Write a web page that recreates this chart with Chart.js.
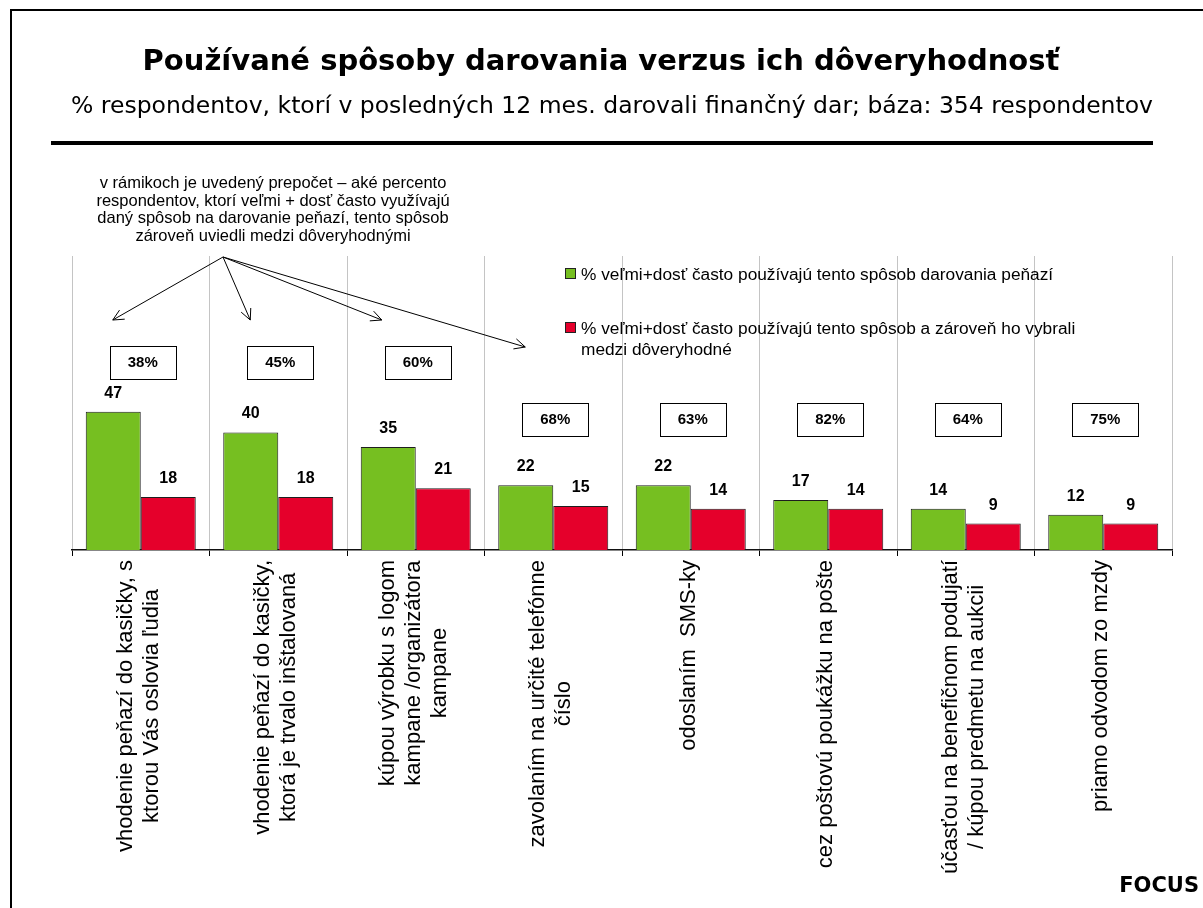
<!DOCTYPE html>
<html>
<head>
<meta charset="utf-8">
<script src="https://cdn.jsdelivr.net/npm/chart.js@4"></script>
<style>
  html, body { margin: 0; padding: 0; background: #fff; }
  canvas { display: block; }
</style>
</head>
<body>
<canvas id="chart" width="1203" height="908"></canvas>
<script>
/* DATA */
const categories = [
  ['vhodenie peňazí do kasičky, s', 'ktorou Vás oslovia ľudia'],
  ['vhodenie peňazí do kasičky,', 'ktorá je trvalo inštalovaná'],
  ['kúpou výrobku s logom', 'kampane /organizátora', 'kampane'],
  ['zavolaním na určité telefónne', 'číslo'],
  ['odoslaním  SMS-ky'],
  ['cez poštovú poukážku na pošte'],
  ['účasťou na benefičnom podujatí', '/ kúpou predmetu na aukcii'],
  ['priamo odvodom zo mzdy']
]
const usedOften = [47, 40, 35, 22, 22, 17, 14, 12]
const usedAndTrusted = [18, 18, 21, 15, 14, 14, 9, 9]
const trustShare = ['38%', '45%', '60%', '68%', '63%', '82%', '64%', '75%']

const seriesNames = [
  ['% veľmi+dosť často používajú tento spôsob darovania peňazí'],
  ['% veľmi+dosť často používajú tento spôsob a zároveň ho vybrali', 'medzi dôveryhodné']
]
const title = 'Používané spôsoby darovania verzus ich dôveryhodnosť'
const subtitle = '% respondentov, ktorí v posledných 12 mes. darovali finančný dar; báza: 354 respondentov'
const note = [
  'v rámikoch je uvedený prepočet – aké percento',
  'respondentov, ktorí veľmi + dosť často využívajú',
  'daný spôsob na darovanie peňazí, tento spôsob',
  'zároveň uviedli medzi dôveryhodnými'
]
const brand = 'FOCUS'

const GREEN = '#76BF21'
const RED = '#E5002B'
const ARIAL = '"Liberation Sans", Arial, sans-serif'
const VERDANA = '"DejaVu Sans", Verdana, sans-serif'

/* DECORATION: titles, note, arrows, legend, boxes, labels */
function arrow(ctx, x1, y1, x2, y2) {
  const a = Math.atan2(y2 - y1, x2 - x1)
  const h = 12
  ctx.beginPath()
  ctx.moveTo(x1, y1)
  ctx.lineTo(x2, y2)
  ctx.moveTo(x2 - h * Math.cos(a - 0.45), y2 - h * Math.sin(a - 0.45))
  ctx.lineTo(x2, y2)
  ctx.lineTo(x2 - h * Math.cos(a + 0.45), y2 - h * Math.sin(a + 0.45))
  ctx.stroke()
}

const decor = {
  id: 'decor',
  afterDatasetsDraw(chart) {
    const ctx = chart.ctx
    const x = chart.scales.x
    const y = chart.scales.y
    const area = chart.chartArea
    ctx.save()

    // frame
    ctx.strokeStyle = '#000'
    ctx.lineWidth = 2
    ctx.beginPath()
    ctx.moveTo(11, 908)
    ctx.lineTo(11, 10)
    ctx.lineTo(1203, 10)
    ctx.stroke()

    // title + subtitle + rule
    ctx.fillStyle = '#000'
    ctx.textAlign = 'center'
    ctx.textBaseline = 'alphabetic'
    ctx.font = 'bold 29px ' + VERDANA
    ctx.fillText(title, 601, 70)
    ctx.font = '23.5px ' + VERDANA
    ctx.fillText(subtitle, 612, 113)
    ctx.fillRect(51, 141, 1102, 4)

    // note
    ctx.font = '16.5px ' + ARIAL
    note.forEach((line, i) => ctx.fillText(line, 273, 188 + i * 17.5))

    // arrows to the first four boxes
    ctx.lineWidth = 1
    const ends = [[0, 320], [1, 320], [2, 320], [3, 347]]
    const shift = [-28, -28, -34, -28]
    ends.forEach(([i, ey], k) => arrow(ctx, 223, 257, x.getPixelForValue(i) + shift[k], ey))

    // legend
    ctx.textAlign = 'left'
    ctx.font = '17.3px ' + ARIAL
    const legendTop = [268, 322]
    const colors = [GREEN, RED]
    seriesNames.forEach((lines, s) => {
      ctx.fillStyle = colors[s]
      ctx.fillRect(565, legendTop[s], 10, 10)
      ctx.strokeStyle = '#222'
      ctx.strokeRect(565.5, legendTop[s] + 0.5, 10, 10)
      ctx.fillStyle = '#000'
      lines.forEach((line, j) => ctx.fillText(line, 581, legendTop[s] + 12 + j * 21))
    })

    // value labels
    ctx.textAlign = 'center'
    ctx.font = 'bold 16px ' + ARIAL
    chart.data.datasets.forEach((ds, d) => {
      chart.getDatasetMeta(d).data.forEach((bar, i) => {
        ctx.fillText(ds.data[i], bar.x, bar.y - 14)
      })
    })

    // boxes with trust share
    ctx.font = 'bold 15px ' + ARIAL
    ctx.textBaseline = 'middle'
    ctx.strokeStyle = '#000'
    trustShare.forEach((txt, i) => {
      const cx = x.getPixelForValue(i) + 2
      const cy = y.getPixelForValue(i < 3 ? 64 : 44.5)
      ctx.fillStyle = '#fff'
      ctx.fillRect(cx - 33, cy - 16, 66, 33)
      ctx.strokeRect(Math.round(cx - 33) + 0.5, Math.round(cy - 16) + 0.5, 66, 33)
      ctx.fillStyle = '#000'
      ctx.fillText(txt, cx, cy + 1)
    })

    // rotated category labels
    ctx.font = '22px ' + ARIAL
    const lh = 26
    categories.forEach((lines, i) => {
      const w = Math.max(...lines.map(l => ctx.measureText(l).width))
      ctx.save()
      ctx.translate(x.getPixelForValue(i) - 2, area.bottom + 10 + w / 2)
      ctx.rotate(-Math.PI / 2)
      lines.forEach((line, j) => ctx.fillText(line, 0, (j - (lines.length - 1) / 2) * lh))
      ctx.restore()
    })

    // brand
    ctx.textAlign = 'right'
    ctx.textBaseline = 'alphabetic'
    ctx.font = 'bold 21px ' + VERDANA
    ctx.fillText(brand, 1199, 892)

    ctx.restore()
  }
}

/* CHART */
const ctx = document.getElementById('chart')

new Chart(ctx, {
  type: 'bar',
  data: {
    labels: categories.map(l => l.join(' ')),
    datasets: [{
      label: seriesNames[0].join(' '),
      data: usedOften,
      backgroundColor: GREEN,
      borderColor: '#1e1e1e',
      borderWidth: 1,
      categoryPercentage: 0.8,
      barPercentage: 1
    }, {
      label: seriesNames[1].join(' '),
      data: usedAndTrusted,
      backgroundColor: RED,
      borderColor: '#1e1e1e',
      borderWidth: 1,
      categoryPercentage: 0.8,
      barPercentage: 1
    }]
  },
  options: {
    responsive: false,
    animation: false,
    layout: { padding: { left: 72, right: 31, top: 256, bottom: 352 } },
    plugins: { legend: { display: false }, tooltip: { enabled: false } },
    scales: {
      x: {
        grid: { color: '#c4c4c4', tickColor: '#000', tickLength: 6, offset: true },
        border: { color: '#111', width: 1.5 },
        ticks: { display: false }
      },
      y: { display: false, min: 0, max: 100 }
    }
  },
  plugins: [decor]
})
</script>
</body>
</html>
